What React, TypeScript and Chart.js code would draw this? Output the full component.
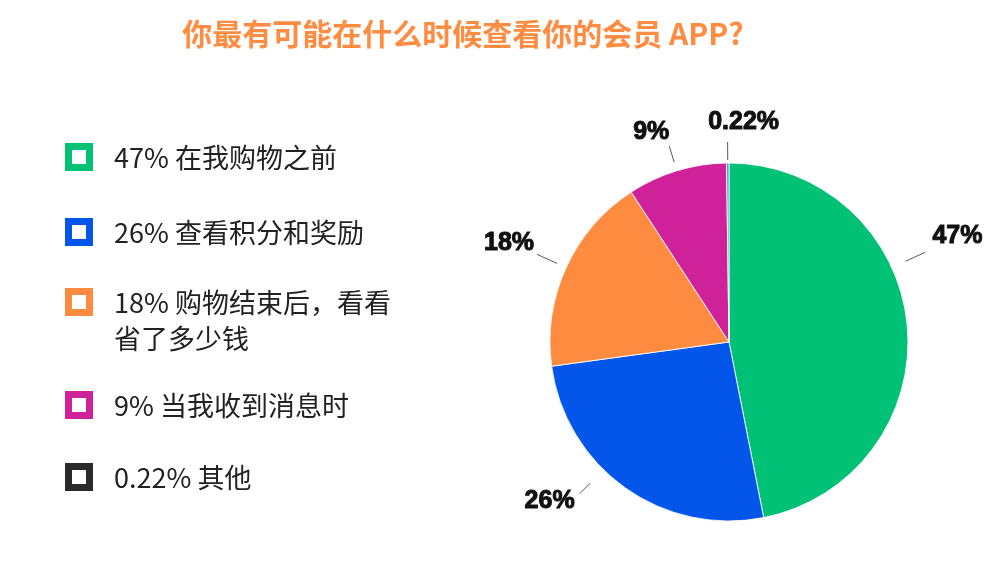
import React, { useEffect, useRef } from "react";
import { Chart, registerables } from "chart.js";

Chart.register(...registerables);

const title = "你最有可能在什么时候查看你的会员 APP?";
const categories = ["在我购物之前", "查看积分和奖励", "购物结束后，看看省了多少钱", "当我收到消息时", "其他"];
const legendLines: string[][] = [
  ["47% 在我购物之前"],
  ["26% 查看积分和奖励"],
  ["18% 购物结束后，看看", "省了多少钱"],
  ["9% 当我收到消息时"],
  ["0.22% 其他"],
];
const values = [47, 26, 18, 9, 0.22];
const valueLabels = ["47%", "26%", "18%", "9%", "0.22%"];
const sliceColors = ["#00C176", "#0455EA", "#FF8B40", "#CF2199", "#4A8FD6"];
const legendColors = ["#00C176", "#0455EA", "#FF8B40", "#CF2199", "#2A2A2A"];

// label layout (style only)
const labelAngleShift = [-19, 9, 0, 0, 0];
const leaderInner = [15, 19, 10, 9, 3];
const leaderOuter = [37, 34, 32, 26, 21];
const labelNudge: [number, number][] = [
  [32, -16],
  [-30, 7],
  [-28, -11],
  [-18, -14],
  [16, -20],
];

const outsideLabels = {
  id: "outsideLabels",
  afterDatasetsDraw(chart: any) {
    const ctx = chart.ctx;
    const meta = chart.getDatasetMeta(0);
    ctx.save();
    meta.data.forEach((arc: any, i: number) => {
      const { x, y, startAngle, endAngle, outerRadius } = arc.getProps(
        ["x", "y", "startAngle", "endAngle", "outerRadius"],
        true
      );
      const a = (startAngle + endAngle) / 2 + (labelAngleShift[i] * Math.PI) / 180;
      const c = Math.cos(a);
      const s = Math.sin(a);
      const r1 = outerRadius + leaderInner[i];
      const r2 = outerRadius + leaderOuter[i];
      const x2 = x + c * r2;
      const y2 = y + s * r2;
      ctx.strokeStyle = "#595959";
      ctx.lineWidth = 1;
      ctx.beginPath();
      ctx.moveTo(x + c * r1, y + s * r1);
      ctx.lineTo(x2, y2);
      ctx.stroke();
      ctx.font = "bold 25px 'Liberation Sans', Arial, sans-serif";
      ctx.textAlign = "center";
      ctx.textBaseline = "middle";
      ctx.fillStyle = "#111111";
      ctx.strokeStyle = "#111111";
      ctx.lineWidth = 1;
      const tx = x2 + labelNudge[i][0];
      const ty = y2 + labelNudge[i][1];
      ctx.fillText(valueLabels[i], tx, ty);
      ctx.strokeText(valueLabels[i], tx, ty);
    });
    ctx.restore();
  },
};

export default function App() {
  const ref = useRef<HTMLCanvasElement | null>(null);
  useEffect(() => {
    if (!ref.current) return;
    const chart = new Chart(ref.current, {
      type: "pie",
      data: {
        labels: categories,
        datasets: [
          {
            data: values,
            backgroundColor: sliceColors,
            borderColor: "rgba(255,255,255,0.85)",
            borderWidth: 1,
            hoverOffset: 0,
            radius: 179,
          } as any,
        ],
      },
      options: {
        animation: false,
        responsive: false,
        layout: { padding: { left: 458, right: 0, top: 120, bottom: 0 } },
        plugins: {
          legend: { display: false },
          tooltip: { enabled: false },
        },
      },
      plugins: [outsideLabels],
    });
    return () => chart.destroy();
  }, []);

  const legendTop = [143, 218, 288, 391, 463];

  return (
    <div style={{ position: "absolute", left: 0, top: 0, width: 1000, height: 564, background: "#fff", overflow: "hidden" }}>
      <canvas ref={ref} width={1000} height={564} style={{ position: "absolute", left: 0, top: 0 }} />
      <div
        style={{
          position: "absolute",
          left: 0,
          width: 926,
          top: 11,
          textAlign: "center",
          color: "#FF8C40",
          fontFamily: "'Noto Sans CJK SC', 'Noto Sans', sans-serif",
          fontWeight: 700,
          fontSize: 30,
          lineHeight: "42px",
          whiteSpace: "nowrap",
        }}
      >
        {title}
      </div>
      {legendLines.map((lines, i) => (
        <div key={i} style={{ position: "absolute", left: 65, top: legendTop[i] }}>
          <div
            style={{
              position: "absolute",
              left: 0,
              top: 0,
              width: 14,
              height: 14,
              border: `7px solid ${legendColors[i]}`,
              background: "#fff",
            }}
          />
          <div
            style={{
              position: "absolute",
              left: 49,
              top: -4,
              fontFamily: "'Noto Sans CJK SC', 'Noto Sans', sans-serif",
              fontSize: 27,
              lineHeight: "36px",
              color: "#222",
              whiteSpace: "nowrap",
            }}
          >
            {lines.map((l, j) => (
              <div key={j}>{l}</div>
            ))}
          </div>
        </div>
      ))}
    </div>
  );
}
